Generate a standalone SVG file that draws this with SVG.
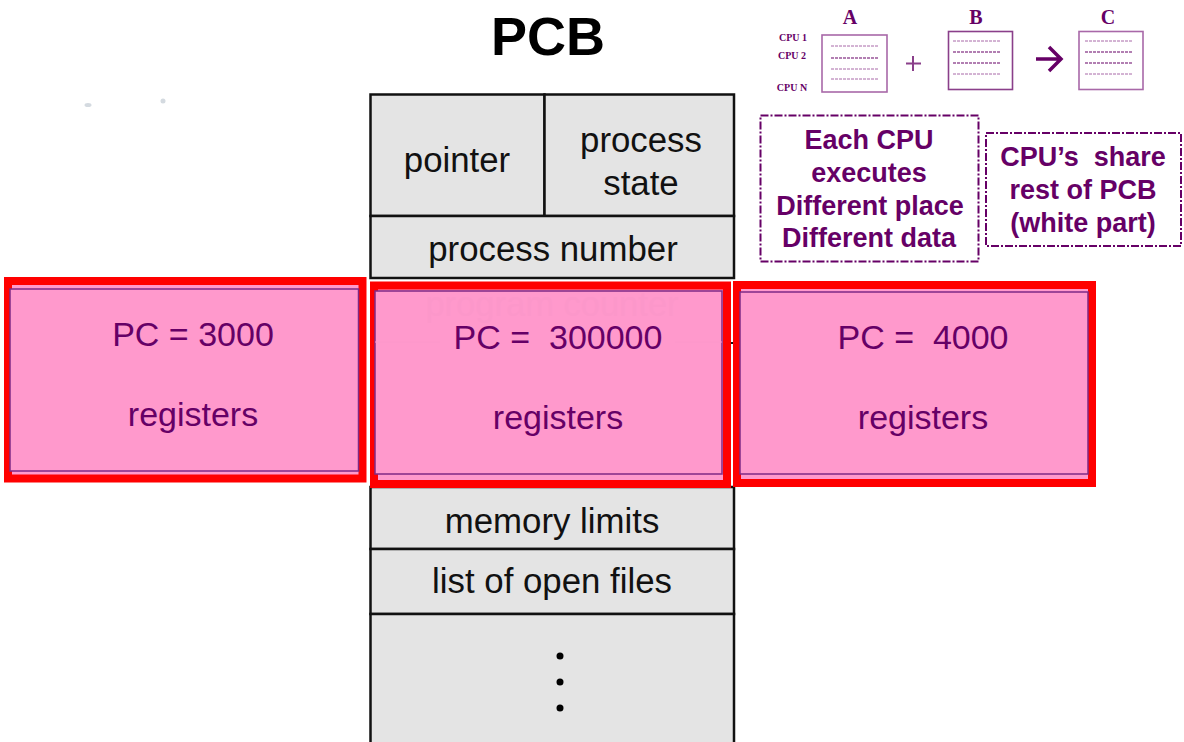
<svg xmlns="http://www.w3.org/2000/svg" width="1184" height="742" viewBox="0 0 1184 742">
<style>
text{font-family:"Liberation Sans",Arial,sans-serif;text-anchor:middle}
.cell{fill:#e4e4e4;stroke:#111;stroke-width:2.5}
.t{font-size:34.800px;fill:#111}
.red{fill:#ff99cc;stroke:#ff0000;stroke-width:8}
.in{fill:#ff99cc;stroke:#7f2a85;stroke-width:1.5}
.pk{font-size:34px;fill:#660066}
.note{fill:#fff;stroke:#660066;stroke-width:2;stroke-dasharray:8 2 2 2}
.nt{font-size:27px;font-weight:bold;fill:#660066}
.doc{fill:#fff;stroke:#a868a8;stroke-width:1.6}
.dash{stroke:#a868a8;stroke-width:1;stroke-dasharray:3 1;fill:none}
.dk{stroke:#660066;stroke-width:1.2;stroke-dasharray:3 1;fill:none}
.ser{font-family:"Liberation Serif",serif;font-weight:bold;fill:#660066}
</style>
<rect width="1184" height="742" fill="#fff"/>
<text x="548" y="55" font-size="54" font-weight="bold" fill="#000" id="title">PCB</text>
<g id="specks" fill="#d4dae0"><ellipse cx="88" cy="105" rx="3.500" ry="2"/><circle cx="163" cy="101" r="2.500"/></g>

<g id="pcb">
<g id="cell-pointer"><rect class="cell" x="370.500" y="94.500" width="174" height="121.500"/><text class="t" x="457" y="172">pointer</text></g>
<g id="cell-state"><rect class="cell" x="544.500" y="94.500" width="189.500" height="121.500"/><text class="t" x="641" y="152">process</text><text class="t" x="641" y="195">state</text></g>
<g id="cell-number"><rect class="cell" x="370.500" y="216" width="363.500" height="62"/><text class="t" x="553" y="261">process number</text></g>
<g id="cell-memory"><rect class="cell" x="370.500" y="487" width="363.500" height="62"/><text class="t" x="552" y="533">memory limits</text></g>
<g id="cell-files"><rect class="cell" x="370.500" y="549" width="363.500" height="65"/><text class="t" x="552" y="593">list of open files</text></g>
<g id="cell-more"><rect class="cell" x="370.500" y="614" width="363.500" height="140"/><circle cx="560" cy="656" r="3.500" fill="#000"/><circle cx="560" cy="682" r="3.500" fill="#000"/><circle cx="560" cy="708" r="3.500" fill="#000"/></g>
<path d="M370 343H734" stroke="#111" stroke-width="2"/>
</g>

<g id="cpu1">
<rect class="red" x="8" y="281" width="354.500" height="197.500"/>
<rect class="in" x="10" y="289" width="348.500" height="182"/>
<text class="pk" x="193" y="346">PC = 3000</text>
<text class="pk" x="193" y="426">registers</text>
</g>
<g id="cpu2">
<rect class="red" x="374" y="285.500" width="353" height="198.500"/>
<rect class="in" x="375" y="291" width="347" height="183"/>
<text x="552" y="316" font-size="34.500" fill="#fc97ca">program counter</text>
<path d="M375 342H440M675 342H722" stroke="#fc97ca" stroke-width="1"/>
<text class="pk" x="558" y="349" xml:space="preserve">PC =  300000</text>
<text class="pk" x="558" y="429">registers</text>
</g>
<g id="cpu3">
<rect class="red" x="737" y="285" width="355" height="198"/>
<rect class="in" x="740" y="292" width="348" height="182"/>
<text class="pk" x="923" y="349" xml:space="preserve">PC =  4000</text>
<text class="pk" x="923" y="429">registers</text>
</g>

<g id="note-each">
<rect class="note" x="760.500" y="115.500" width="218" height="146"/>
<text class="nt" x="869" y="149">Each CPU</text>
<text class="nt" x="869" y="182">executes</text>
<text class="nt" x="870" y="215">Different place</text>
<text class="nt" x="869" y="247">Different data</text>
</g>
<g id="note-share">
<rect class="note" x="986" y="133" width="195" height="113"/>
<text class="nt" x="1083" y="166" xml:space="preserve">CPU’s  share</text>
<text class="nt" x="1083" y="199">rest of PCB</text>
<text class="nt" x="1083" y="232">(white part)</text>
</g>

<g id="matrix-a">
<text class="ser" x="850" y="24" font-size="20">A</text>
<text class="ser" x="793" y="41" font-size="10">CPU 1</text>
<text class="ser" x="792" y="59" font-size="10">CPU 2</text>
<text class="ser" x="792" y="91" font-size="10">CPU N</text>
<rect class="doc" x="822" y="35" width="65" height="57"/>
<path class="dash" d="M831 46H879M831 69H879M831 79H879"/><path class="dk" d="M831 58H879"/>
</g>
<g id="matrix-b">
<text class="ser" x="976" y="24" font-size="20">B</text>
<rect class="doc" x="948.500" y="31.500" width="64" height="58" style="stroke:#8a3f8a"/>
<path class="dash" d="M953 41H1001M953 74H1001"/><path class="dk" d="M953 52H1001M953 63H1001"/>
</g>
<g id="matrix-c">
<text class="ser" x="1108" y="24" font-size="20">C</text>
<rect class="doc" x="1079" y="31.500" width="64" height="58"/>
<path class="dash" d="M1085 41H1133M1085 74H1133"/><path class="dk" d="M1085 52H1133M1085 63H1133"/>
</g>
<g id="connectors" fill="none" stroke="#660066">
<path d="M913 56V71M906 63.500H921" stroke="#8a3f8a" stroke-width="2"/>
<path d="M1036 59H1060M1049 47L1061 59L1049 71" stroke-width="3.500"/>
</g>
</svg>
